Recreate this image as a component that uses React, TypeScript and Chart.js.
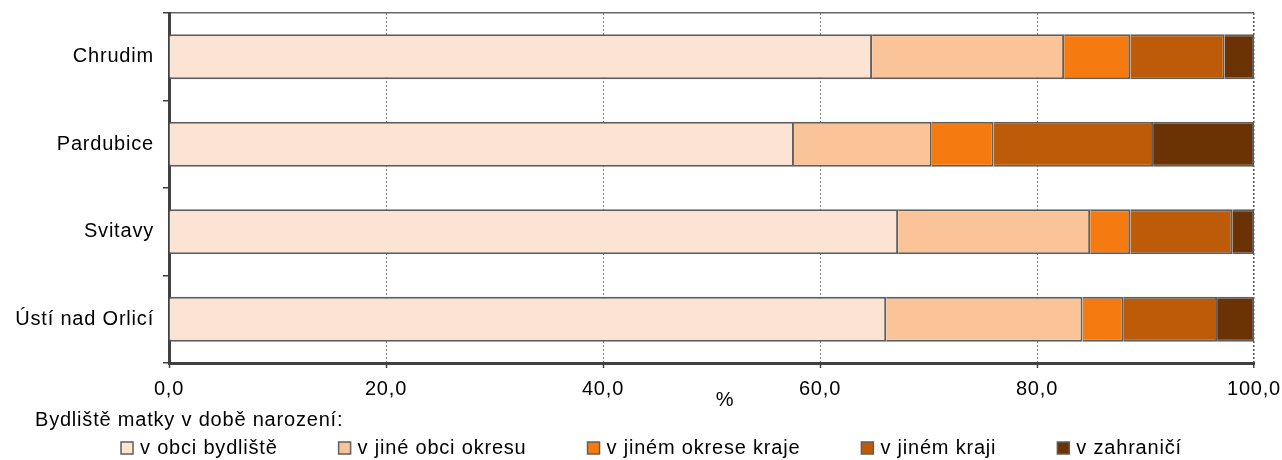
import React, { useEffect, useRef } from 'react';
import { Chart, registerables } from 'chart.js';

Chart.register(...registerables);

// ---- data ----
const categories = ['Chrudim', 'Pardubice', 'Svitavy', 'Ústí nad Orlicí'];
const seriesLabels = ['v obci bydliště', 'v jiné obci okresu', 'v jiném okrese kraje', 'v jiném kraji', 'v zahraničí'];
const vObciBydliste = [64.8, 57.6, 67.2, 66.1];
const vJineObciOkresu = [17.7, 12.7, 17.7, 18.1];
const vJinemOkreseKraje = [6.1, 5.7, 3.7, 3.8];
const vJinemKraji = [8.7, 14.7, 9.4, 8.6];
const vZahranici = [2.7, 9.3, 2.0, 3.4];
const xTickLabels = ['0,0', '20,0', '40,0', '60,0', '80,0', '100,0'];
const legendTitle = 'Bydliště matky v době narození:';
const axisTitle = '%';

// ---- styles ----
const seriesColors = ['#FCE4D4', '#FAC498', '#F57A0F', '#BD5B08', '#6B3303'];
const FONT_FAMILY = '"Liberation Sans", Arial, sans-serif';
const FONT_SIZE = 20;
const SPACING = '0.8px';

const spacingPlugin = {
  id: 'letterSpacingPlugin',
  beforeUpdate(chart: any) {
    chart.ctx.letterSpacing = SPACING;
  },
  beforeDraw(chart: any) {
    chart.ctx.letterSpacing = SPACING;
  },
};

const legendPlugin = {
  id: 'bottomLegend',
  afterDraw(chart: any) {
    const ctx = chart.ctx as CanvasRenderingContext2D;
    ctx.save();
    (ctx as any).letterSpacing = SPACING;
    ctx.font = `${FONT_SIZE}px ${FONT_FAMILY}`;
    ctx.fillStyle = '#000000';
    ctx.textBaseline = 'middle';

    // axis title
    ctx.textAlign = 'center';
    ctx.fillText(axisTitle, 725, 400);

    // legend title
    ctx.textAlign = 'left';
    ctx.fillText(legendTitle, 35, 420);

    // legend items
    const rowY = 448;
    const box = 12;
    let x = 121;
    chart.data.datasets.forEach((ds: any) => {
      ctx.fillStyle = ds.backgroundColor;
      ctx.fillRect(x, rowY - box / 2, box, box);
      ctx.strokeStyle = '#5f5f5f';
      ctx.lineWidth = 1.5;
      ctx.strokeRect(x, rowY - box / 2, box, box);
      ctx.fillStyle = '#000000';
      const tx = x + 19;
      ctx.fillText(ds.label, tx, rowY);
      x = tx + ctx.measureText(ds.label).width + 61;
    });
    ctx.restore();
  },
};

export default function App() {
  const canvasRef = useRef<HTMLCanvasElement | null>(null);

  useEffect(() => {
    document.body.style.margin = '0';
    const canvas = canvasRef.current;
    if (!canvas) return;
    const values = [vObciBydliste, vJineObciOkresu, vJinemOkreseKraje, vJinemKraji, vZahranici];
    const chart = new Chart(canvas, {
      type: 'bar',
      data: {
        labels: categories,
        datasets: seriesLabels.map((label, i) => ({
          label,
          data: values[i],
          backgroundColor: seriesColors[i],
          borderColor: '#5f5f5f',
          borderWidth: 2,
          borderSkipped: 'start',
          categoryPercentage: 1,
          barPercentage: 0.514,
        })),
      },
      options: {
        indexAxis: 'y',
        responsive: false,
        animation: false,
        devicePixelRatio: 1,
        layout: { autoPadding: false, padding: { top: 13, right: 28, bottom: 0, left: 0 } },
        plugins: {
          legend: { display: false },
          tooltip: { enabled: false },
          title: { display: false },
        },
        scales: {
          x: {
            type: 'linear',
            stacked: true,
            min: 0,
            max: 100,
            ticks: {
              stepSize: 20,
              padding: 9.5,
              color: '#000000',
              font: { family: FONT_FAMILY, size: FONT_SIZE },
              callback: (_v: any, i: number) => xTickLabels[i],
            },
            grid: {
              drawOnChartArea: true,
              color: (c: any) => (c.tick && c.tick.value === 100 ? '#555555' : c.tick && c.tick.value === 0 ? 'rgba(0,0,0,0)' : '#808080'),
              lineWidth: (c: any) => (c.tick && c.tick.value === 100 ? 1.5 : 1),
              tickLength: 5,
              tickColor: '#404040',
              tickWidth: 1.5,
              tickBorderDash: [],
            },
            border: { display: true, color: '#404040', width: 3, dash: [2, 2] },
            afterFit: (scale: any) => {
              scale.height = 97;
              scale.paddingLeft = 0;
              scale.paddingRight = 0;
              scale.paddingTop = 0;
              scale.paddingBottom = 0;
            },
          },
          y: {
            type: 'category',
            stacked: true,
            offset: true,
            ticks: {
              padding: 9,
              color: '#000000',
              font: { family: FONT_FAMILY, size: FONT_SIZE },
            },
            grid: {
              offset: true,
              drawOnChartArea: true,
              color: (c: any) => (c.index === 0 ? '#666666' : 'rgba(0,0,0,0)'),
              lineWidth: 1.5,
              tickLength: 6,
              tickColor: '#404040',
              tickWidth: 1.5,
            },
            border: { display: true, color: '#404040', width: 3 },
            afterFit: (scale: any) => {
              scale.width = 169;
              scale.paddingLeft = 0;
              scale.paddingRight = 0;
              scale.paddingTop = 0;
              scale.paddingBottom = 0;
            },
          },
        },
      },
      plugins: [spacingPlugin, legendPlugin],
    } as any);
    return () => chart.destroy();
  }, []);

  return (
    <div style={{ width: 1282, height: 460, position: 'relative', background: '#ffffff' }}>
      <canvas ref={canvasRef} width={1282} height={460} style={{ display: 'block', width: 1282, height: 460 }} />
    </div>
  );
}
